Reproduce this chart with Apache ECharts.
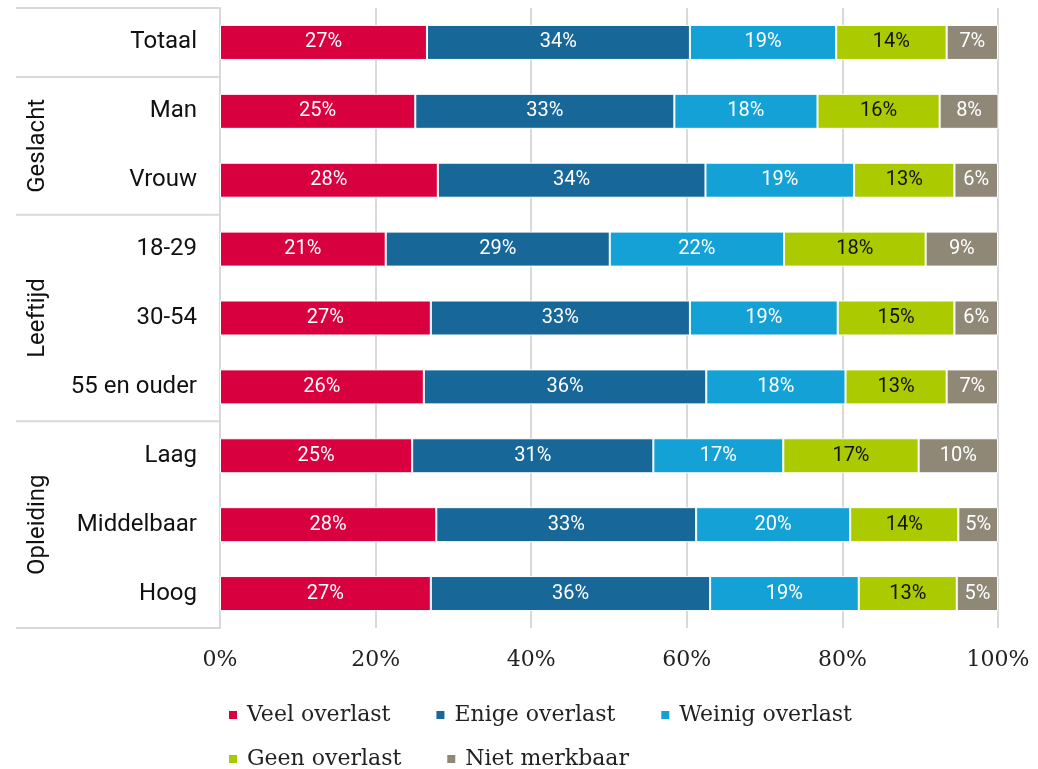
<!DOCTYPE html>
<html>
<head>
<meta charset="utf-8">
<script src="https://cdn.jsdelivr.net/npm/echarts@6/dist/echarts.min.js"></script>
<style>
  html, body { margin: 0; padding: 0; background: #fff; }
  #chart { width: 1038px; height: 769px; }
</style>
</head>
<body>
<div id="chart"></div>
<script>
// Categories (top to bottom)
const categories = ['Totaal', 'Man', 'Vrouw', '18-29', '30-54', '55 en ouder', 'Laag', 'Middelbaar', 'Hoog']

// Share per answer, in %
const veel = [26.6, 25.1, 28.0, 21.3, 27.1, 26.2, 24.7, 27.8, 27.1]
const enige = [33.8, 33.3, 34.4, 28.8, 33.3, 36.3, 31.0, 33.4, 35.9]
const weinig = [18.8, 18.4, 19.1, 22.4, 19.0, 17.9, 16.7, 19.8, 19.1]
const geen = [14.2, 15.7, 12.9, 18.2, 15.0, 13.0, 17.4, 13.9, 12.6]
const nietMerkbaar = [6.6, 7.6, 5.6, 9.3, 5.6, 6.6, 10.2, 5.1, 5.3]

const seriesNames = ['Veel overlast', 'Enige overlast', 'Weinig overlast', 'Geen overlast', 'Niet merkbaar']

// Groups for the left-hand labels: [label, first index, last index]
const groups = [
  ['', 0, 0],
  ['Geslacht', 1, 2],
  ['Leeftijd', 3, 5],
  ['Opleiding', 6, 8],
]

const xTicks = [0, 20, 40, 60, 80, 100]

const colors = ['#d9003f', '#176899', '#14a1d6', '#abcb00', '#8f8877']
const labelColors = ['#fff', '#fff', '#fff', '#111', '#fff']

const chart = echarts.init(document.getElementById('chart'))

const seriesData = [veel, enige, weinig, geen, nietMerkbaar].map((values, i) => ({
  name: seriesNames[i],
  type: 'bar',
  stack: 'total',
  barWidth: 35,
  data: values,
  itemStyle: {
    color: colors[i],
    borderColor: '#fff',
    borderWidth: 1,
  },
  label: {
    show: true,
    position: 'inside',
    color: labelColors[i],
    fontFamily: 'Roboto',
    fontSize: 20,
    formatter: (p) => Math.round(p.value) + '%',
  },
}))

const legendText = {
  fontFamily: 'DejaVu Serif',
  fontSize: 22,
  color: '#222',
  padding: [0, 0, 0, 4],
}

const option = {
  animation: false,
  textStyle: { fontFamily: 'Roboto' },
  grid: {
    left: 220,
    right: 40,
    top: 8,
    bottom: 141,
  },
  legend: [
    {
      data: seriesNames.slice(0, 3),
      left: 222,
      top: 699,
      icon: 'rect',
      itemWidth: 10,
      itemHeight: 10,
      itemGap: 44,
      textStyle: legendText,
      selectedMode: false,
    },
    {
      data: seriesNames.slice(3),
      left: 222,
      top: 743,
      icon: 'rect',
      itemWidth: 10,
      itemHeight: 10,
      itemGap: 44,
      textStyle: legendText,
      selectedMode: false,
    },
  ],
  xAxis: {
    type: 'value',
    min: xTicks[0],
    max: xTicks[xTicks.length - 1],
    interval: 20,
    axisLine: { show: false },
    axisTick: { show: false },
    axisLabel: {
      formatter: '{value}%',
      fontFamily: 'DejaVu Serif',
      fontSize: 22,
      color: '#222',
      margin: 21,
    },
    splitLine: {
      lineStyle: { color: '#d9d9d9', width: 2 },
    },
  },
  yAxis: {
    type: 'category',
    inverse: true,
    data: categories,
    axisLine: {
      show: true,
      lineStyle: { color: '#d9d9d9', width: 2 },
    },
    axisTick: { show: false },
    axisLabel: {
      fontFamily: 'Roboto',
      fontSize: 24,
      color: '#111',
      margin: 23,
    },
  },
  series: seriesData,
}

chart.setOption(option)

// Left table: group separators and rotated group names
const yOf = (i) => chart.convertToPixel({ yAxisIndex: 0 }, categories[i])
const band = yOf(1) - yOf(0)
const lineStyle = { stroke: '#d9d9d9', lineWidth: 2 }
const elements = []
const xLeft = 16
const xRight = 220

elements.push({
  type: 'line',
  shape: { x1: xLeft, y1: yOf(0) - band / 2, x2: xRight, y2: yOf(0) - band / 2 },
  style: lineStyle,
})
groups.forEach(([name, a, b]) => {
  const yBottom = yOf(b) + band / 2
  elements.push({
    type: 'line',
    shape: { x1: xLeft, y1: yBottom, x2: xRight, y2: yBottom },
    style: lineStyle,
  })
  if (name) {
    elements.push({
      type: 'text',
      x: 38,
      y: (yOf(a) + yOf(b)) / 2,
      rotation: Math.PI / 2,
      style: {
        text: name,
        fontFamily: 'Roboto',
        fontSize: 24,
        fill: '#111',
        align: 'center',
        verticalAlign: 'middle',
      },
    })
  }
})

chart.setOption({ graphic: { elements } })

window.addEventListener('resize', () => chart.resize())
</script>
</body>
</html>
